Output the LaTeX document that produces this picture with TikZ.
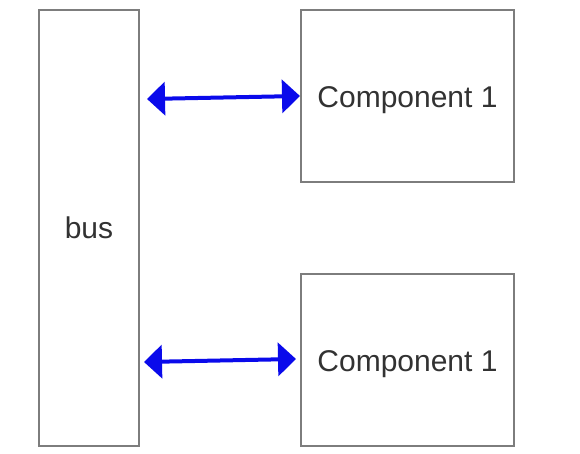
\documentclass[tikz,border=0pt]{standalone}
\usepackage{fontspec}
\setmainfont{Liberation Sans}
\usetikzlibrary{arrows.meta}
\definecolor{boxcol}{RGB}{125,125,125}
\definecolor{txtcol}{RGB}{50,50,50}
\definecolor{arrcol}{RGB}{10,10,235}

\begin{document}
\begin{tikzpicture}[x=1pt, y=-1pt,
  every node/.style={font=\fontsize{30}{36}\selectfont, text=txtcol},
  unit/.style={draw=boxcol, line width=2pt, minimum width=213pt, minimum height=172pt, inner sep=0pt, text height=24pt, text depth=0pt},
  link/.style={draw=arrcol, line width=4pt, {Triangle[length=18pt,width=33pt]}-{Triangle[length=18pt,width=33pt]}}]
  \useasboundingbox (0,0) rectangle (580,454);
  \node[draw=boxcol, line width=2pt, minimum width=100pt, minimum height=436pt, inner sep=0pt] (bus) at (89,228) {bus};
  \node[unit] (comp1) at (407.5,96) {Component 1};
  \node[unit] (comp2) at (407.5,359.5) {Component 1};
  % arrow end points
  \coordinate (b1) at (147,99);
  \coordinate (c1) at (300,96);
  \coordinate (b2) at (144,362);
  \coordinate (c2) at (296,359);
  \draw[link] (b1) -- (c1);
  \draw[link] (b2) -- (c2);
\end{tikzpicture}
\end{document}
